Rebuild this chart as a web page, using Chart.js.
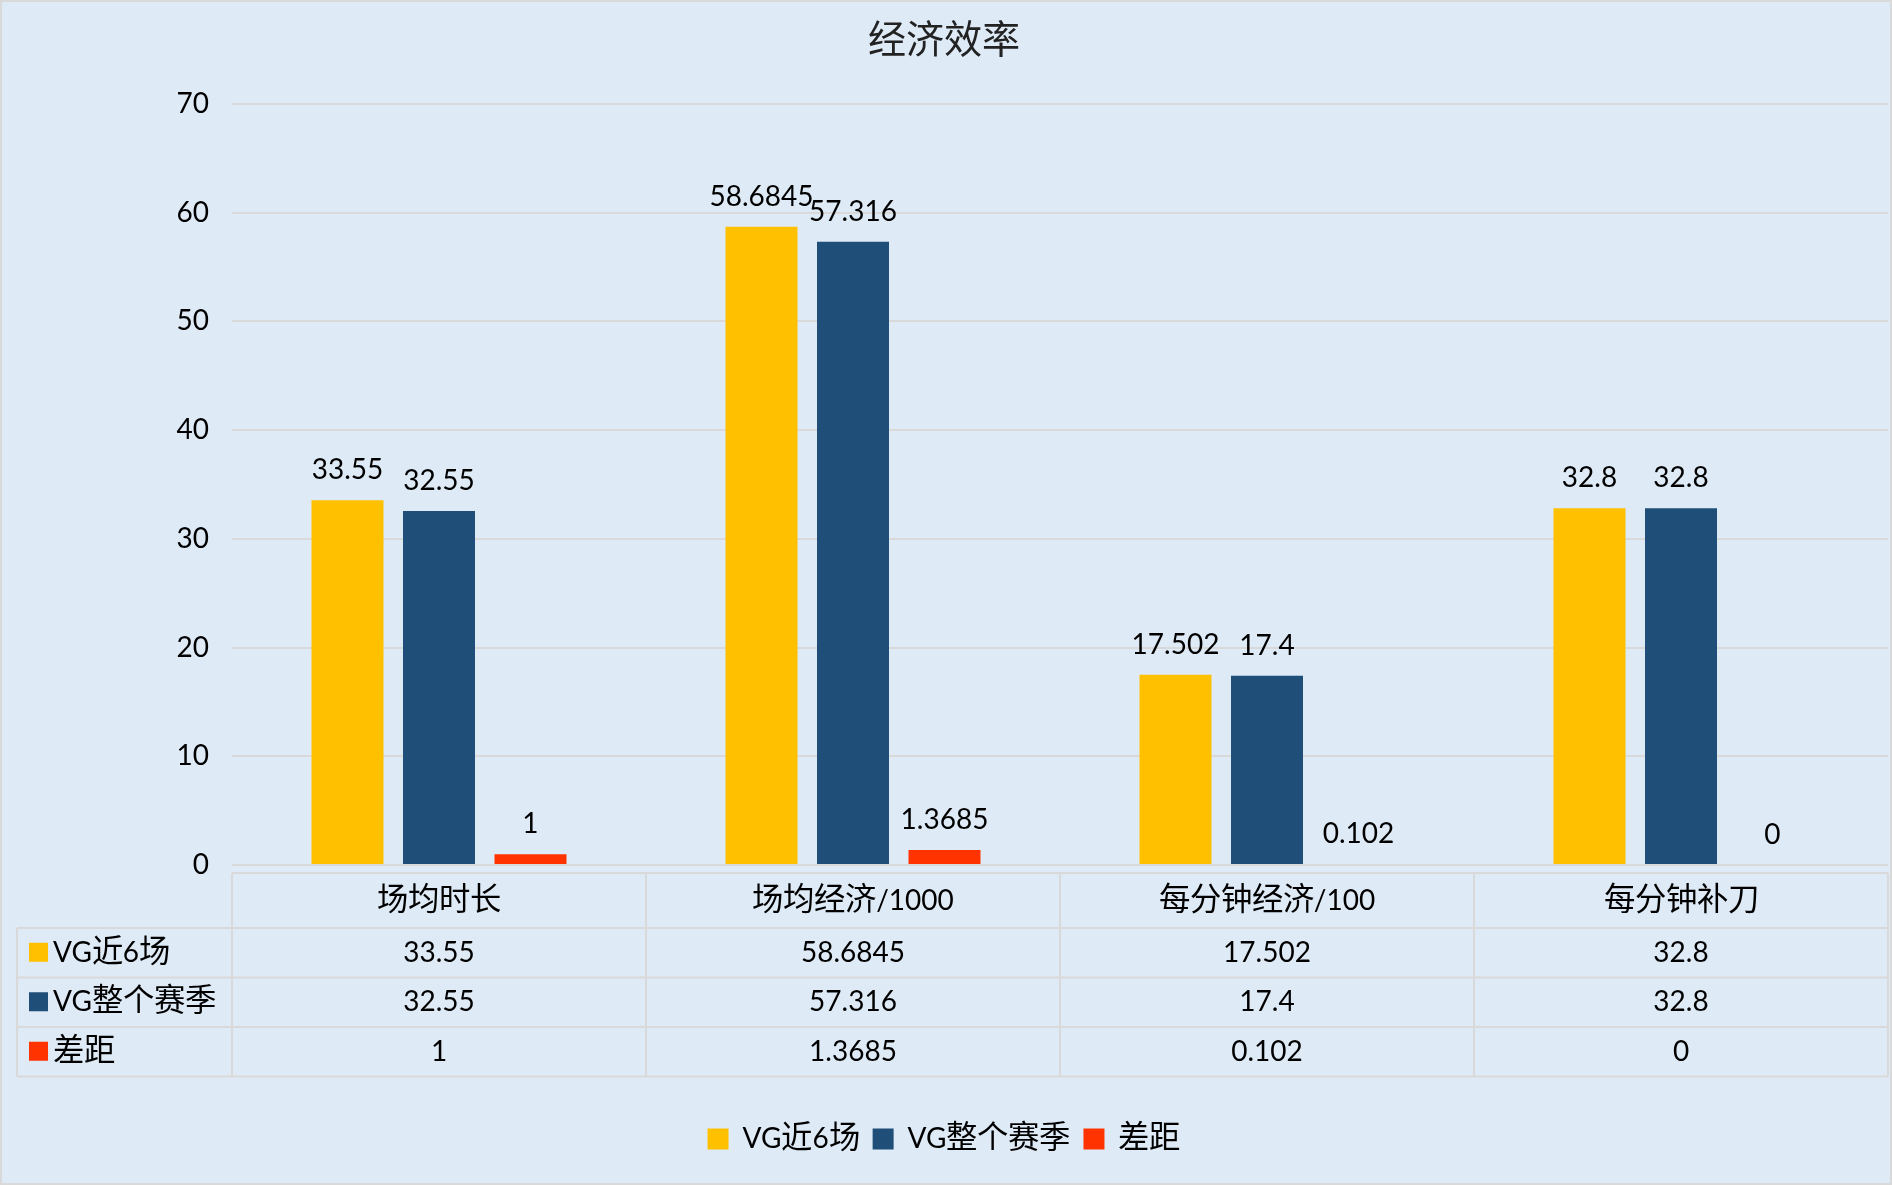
<html><head>
    <meta charset="UTF-8">
    <title>经济效率</title>
    <script src="https://cdn.jsdelivr.net/npm/chart.js"></script>
    <style>
        @font-face {
            font-family: 'CJKBig';
            src: local('Noto Sans CJK SC'), local('Noto Sans CJK SC Regular'), local('NotoSansCJKsc-Regular');
            size-adjust: 112%;
            unicode-range: U+3000-9FFF, U+FF00-FFEF;
        }
        body {
            margin: 0;
            padding: 0;
            background-color: #DEEAF6;
            font-family: Lato, CJKBig, "Noto Sans CJK SC", sans-serif;
        }
        .chart-container {
            width: 1892px;
            height: 1185px;
        }
    </style>
</head>
<body>
    <div class="chart-container">
        <canvas id="economyChart"></canvas>
    </div>
    <script>
        // Data
        const categories = ['场均时长', '场均经济/1000', '每分钟经济/100', '每分钟补刀'];
        const recent6 = [33.55, 58.6845, 17.502, 32.8];
        const wholeSeason = [32.55, 57.316, 17.4, 32.8];
        const gap = [1, 1.3685, 0.102, 0];
        const seriesNames = ['VG近6场', 'VG整个赛季', '差距'];
        const seriesColors = ['#FFC000', '#1F4E79', '#FF3300'];
        const yMin = 0, yMax = 70, yStep = 10;

        const FONT = 'Lato, CJKBig, "Noto Sans CJK SC", sans-serif';
        const seriesValues = [recent6, wholeSeason, gap];

        // background + outer frame
        const background = {
            id: 'background',
            beforeDraw(chart) {
                const ctx = chart.ctx;
                ctx.save();
                ctx.fillStyle = '#DEEAF6';
                ctx.fillRect(0, 0, chart.width, chart.height);
                ctx.restore();
            },
            afterDraw(chart) {
                const ctx = chart.ctx;
                ctx.save();
                ctx.strokeStyle = '#D9D9D9';
                ctx.lineWidth = 2;
                ctx.strokeRect(1, 1, chart.width - 2, chart.height - 2);
                ctx.restore();
            }
        };

        // numbers above the bars
        const valueLabels = {
            id: 'valueLabels',
            afterDatasetsDraw(chart) {
                const ctx = chart.ctx;
                ctx.save();
                ctx.font = '28px ' + FONT;
                ctx.fillStyle = '#000';
                ctx.textAlign = 'center';
                ctx.textBaseline = 'alphabetic';
                chart.data.datasets.forEach((ds, d) => {
                    chart.getDatasetMeta(d).data.forEach((bar, i) => {
                        ctx.fillText(String(ds.data[i]), bar.x, bar.y - 21);
                    });
                });
                ctx.restore();
            }
        };

        // Excel style data table under the plot
        const dataTable = {
            id: 'dataTable',
            afterDraw(chart) {
                const {ctx, chartArea, scales: {x}} = chart;
                const top = chartArea.bottom + 8;
                const headH = 55, rowH = 49.5;
                const left = 17;
                const colW = (x.right - x.left) / categories.length;
                const bottom = top + headH + rowH * seriesValues.length;

                ctx.save();
                ctx.strokeStyle = '#D9D9D9';
                ctx.lineWidth = 2;
                ctx.beginPath();
                ctx.moveTo(x.left, top);
                ctx.lineTo(x.right, top);
                for (let r = 0; r <= seriesValues.length; r++) {
                    const y = top + headH + r * rowH;
                    ctx.moveTo(left, y);
                    ctx.lineTo(x.right, y);
                }
                ctx.moveTo(left, top + headH);
                ctx.lineTo(left, bottom);
                for (let i = 0; i <= categories.length; i++) {
                    const xx = x.left + i * colW;
                    ctx.moveTo(xx, top);
                    ctx.lineTo(xx, bottom);
                }
                ctx.stroke();

                ctx.font = '28px ' + FONT;
                ctx.fillStyle = '#000';
                ctx.textBaseline = 'middle';
                ctx.textAlign = 'center';
                categories.forEach((c, i) => {
                    ctx.fillText(c, x.getPixelForTick(i), top + headH / 2);
                });
                seriesValues.forEach((vals, r) => {
                    const cy = top + headH + r * rowH + rowH / 2;
                    ctx.textAlign = 'center';
                    ctx.fillStyle = '#000';
                    vals.forEach((v, i) => ctx.fillText(String(v), x.getPixelForTick(i), cy));
                    ctx.fillStyle = seriesColors[r];
                    ctx.fillRect(29, cy - 10, 19, 19);
                    ctx.fillStyle = '#000';
                    ctx.textAlign = 'left';
                    ctx.fillText(seriesNames[r], 53, cy);
                });
                ctx.restore();
            }
        };

        function drawChart() {
            const ctx = document.getElementById('economyChart').getContext('2d');
            new Chart(ctx, {
                type: 'bar',
                data: {
                    labels: categories,
                    datasets: seriesValues.map((vals, i) => ({
                        label: seriesNames[i],
                        data: vals,
                        backgroundColor: seriesColors[i],
                        borderWidth: 0,
                        categoryPercentage: 0.663,
                        barPercentage: 0.787
                    }))
                },
                options: {
                    responsive: true,
                    maintainAspectRatio: false,
                    animation: false,
                    layout: {
                        padding: { top: 0, left: 0, right: 4, bottom: 22 }
                    },
                    scales: {
                        x: {
                            grid: { display: false },
                            border: { display: false },
                            ticks: { display: false },
                            afterFit: (scale) => { scale.height = 247; }
                        },
                        y: {
                            min: yMin,
                            max: yMax,
                            ticks: {
                                stepSize: yStep,
                                padding: 23,
                                color: '#000',
                                font: { family: FONT, size: 28 }
                            },
                            grid: { color: '#D9D9D9', lineWidth: 2, drawTicks: false },
                            border: { display: false },
                            afterFit: (scale) => { scale.width = 232; }
                        }
                    },
                    plugins: {
                        title: {
                            display: true,
                            text: '经济效率',
                            color: '#222',
                            font: { family: FONT, size: 34, weight: 'normal' },
                            padding: { top: 22, bottom: 41 }
                        },
                        legend: {
                            position: 'bottom',
                            labels: {
                                boxWidth: 21,
                                boxHeight: 21,
                                padding: 13,
                                color: '#000',
                                font: { family: FONT, size: 28 }
                            }
                        },
                        tooltip: { enabled: false }
                    }
                },
                plugins: [background, valueLabels, dataTable]
            });
        }

        Promise.all([
            document.fonts.load('28px CJKBig', '场均时长经济效率'),
            document.fonts.load('28px Lato', '0123')
        ]).catch(() => {}).then(drawChart);
    </script>
</body></html>
